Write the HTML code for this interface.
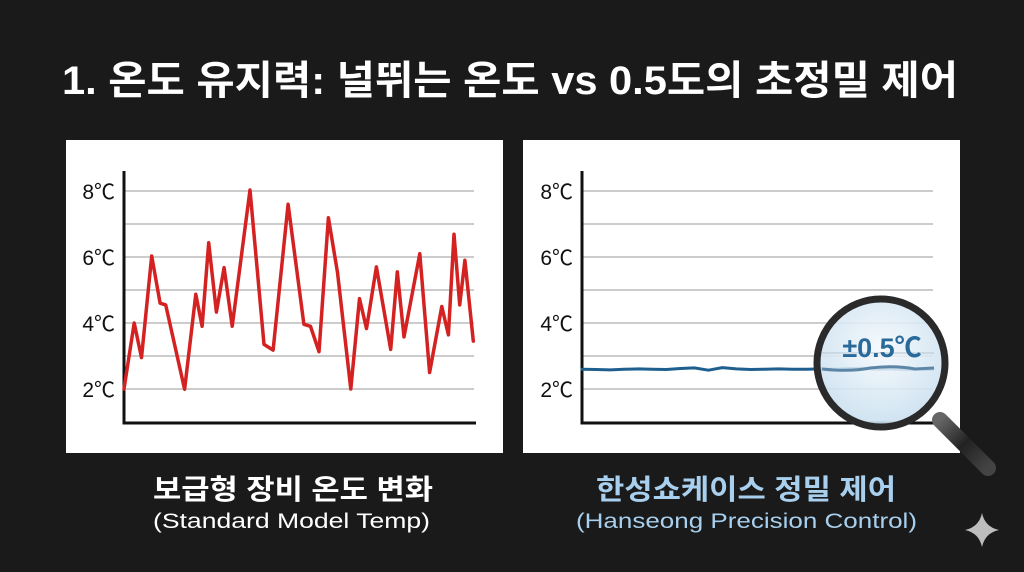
<!DOCTYPE html>
<html><head><meta charset="utf-8"><style>
html,body{margin:0;padding:0;background:#1a1a1a;}
svg{display:block;font-family:"Liberation Sans","Noto Sans CJK KR",sans-serif;}
</style></head><body>
<svg width="1024" height="572" viewBox="0 0 1024 572">
<defs>
<radialGradient id="glass" cx="50%" cy="40%" r="60%">
<stop offset="0" stop-color="#f4f9fd" stop-opacity="0.85"/>
<stop offset="1" stop-color="#c9dfef" stop-opacity="0.9"/>
</radialGradient>
<linearGradient id="handle" x1="0" y1="0" x2="1" y2="1">
<stop offset="0" stop-color="#666"/><stop offset="0.5" stop-color="#222"/><stop offset="1" stop-color="#444"/>
</linearGradient>
</defs>
<rect width="1024" height="572" fill="#1a1a1a"/>
<text x="62" y="94" font-size="40" font-weight="bold" fill="#ffffff" textLength="896" lengthAdjust="spacingAndGlyphs">1. 온도 유지력: 널뛰는 온도 vs 0.5도의 초정밀 제어</text>

<rect x="66" y="140" width="437" height="313" fill="#ffffff"/>
<rect x="523" y="140" width="437" height="313" fill="#ffffff"/>
<g id="left-chart"></g>
<g id="right-chart"></g>

<text x="153" y="499" font-size="28" font-weight="bold" fill="#ffffff" textLength="280" lengthAdjust="spacingAndGlyphs">보급형 장비 온도 변화</text>
<text x="153" y="528" font-size="21" fill="#ffffff" textLength="277" lengthAdjust="spacingAndGlyphs">(Standard Model Temp)</text>
<text x="596" y="499" font-size="28" font-weight="bold" fill="#a8d0ee" textLength="300" lengthAdjust="spacingAndGlyphs">한성쇼케이스 정밀 제어</text>
<text x="576" y="528" font-size="21" fill="#a8d0ee" textLength="341" lengthAdjust="spacingAndGlyphs">(Hanseong Precision Control)</text>

<path d="M982 513 Q985 527 999 530 Q985 533 982 547 Q979 533 965 530 Q979 527 982 513 Z" fill="#bdbdbd"/>
</svg>
<script>
const ticks = [2, 3, 4, 5, 6, 7, 8];
const tickLabels = ["2℃", "", "4℃", "", "6℃", "", "8℃"];
const stdTime = [0, 2.9, 5.0, 7.9, 10.3, 11.9, 17.3, 20.5, 22.3, 24.2, 26.4, 28.6, 30.9, 36.0, 40.0, 42.6, 46.9, 51.4, 53.3, 55.7, 58.4, 61.0, 64.8, 67.3, 69.3, 72.1, 76.2, 78.1, 80.0, 84.5, 87.3, 90.8, 92.7, 94.3, 95.9, 97.4, 99.8];
const stdTemp = [2.0, 4.0, 2.95, 6.03, 4.6, 4.55, 1.99, 4.87, 3.9, 6.43, 4.33, 5.68, 3.9, 8.03, 3.35, 3.18, 7.6, 3.96, 3.9, 3.13, 7.19, 5.53, 2.0, 4.74, 3.83, 5.7, 3.2, 5.55, 3.58, 6.1, 2.5, 4.5, 3.64, 6.69, 4.55, 5.9, 3.45];
const precTime = [0, 4, 8, 12, 16, 20, 24, 28, 32, 36, 40, 44, 48, 52, 56, 60, 64, 68, 72, 76, 80, 84, 88, 92, 96, 100];
const precTemp = [2.6, 2.59, 2.58, 2.6, 2.61, 2.6, 2.59, 2.62, 2.64, 2.57, 2.65, 2.61, 2.59, 2.6, 2.61, 2.6, 2.6, 2.61, 2.6, 2.62, 2.63, 2.6, 2.61, 2.59, 2.6, 2.6];

const NS = "http://www.w3.org/2000/svg";
function mk(tag, attrs, parent) {
  const e = document.createElementNS(NS, tag);
  for (const k in attrs) e.setAttribute(k, attrs[k]);
  parent.appendChild(e);
  return e;
}
function yScale(v) { return 389 - (v - 2) * 33; }

function drawChart(gid, x0, xEnd, times, temps, color, width, lineName) {
  const g = document.getElementById(gid);
  const xScale = t => x0 + t / 100 * (xEnd - x0);
  ticks.forEach((v, i) => {
    const gl = mk("line", {x1: x0, x2: xEnd, y1: yScale(v), y2: yScale(v), stroke: "#9a9a9a", "stroke-width": 1}, g);
    
    
    if (tickLabels[i]) {
      const t = mk("text", {x: x0 - 9, y: yScale(v) + 8, "font-size": 21, fill: "#111", "text-anchor": "end"}, g);
      t.textContent = tickLabels[i];
      
      
    }
  });
  const ax = mk("path", {d: `M${x0} 171 V423 H${xEnd + 2}`, fill: "none", stroke: "#111", "stroke-width": 3}, g);
  
  
  const pts = times.map((t, i) => `${xScale(t).toFixed(1)},${yScale(temps[i]).toFixed(1)}`).join(" ");
  const pl = mk("polyline", {points: pts, fill: "none", stroke: color, "stroke-width": width, "stroke-linejoin": "round", "stroke-linecap": "round"}, g);
  
  
}
drawChart("left-chart", 124, 474, stdTime, stdTemp, "#d42222", 3.5, "standard-temp-line");
drawChart("right-chart", 582, 933, precTime, precTemp, "#1f5f8f", 3, "precision-temp-line");

const svg = document.querySelector("svg");
const mg = mk("g", {}, svg);


const h = mk("line", {x1: 940, y1: 420, x2: 988, y2: 468, stroke: "url(#handle)", "stroke-width": 16, "stroke-linecap": "round"}, mg);


const gl = mk("circle", {cx: 881, cy: 363, r: 64, fill: "url(#glass)", stroke: "#2a2a2a", "stroke-width": 7}, mg);


const gline = mk("line", {x1: 822, x2: 934, y1: 353, y2: 353, stroke: "#b5c4cf", "stroke-width": 1}, mg);


const mw = mk("path", {d: "M822 369 Q850 372 870 368 Q895 365 915 369 L934 368", fill: "none", stroke: "#5d86a6", "stroke-width": 3}, mg);


const lbl = mk("text", {x: 882, y: 357, "font-size": 27, "font-weight": "bold", fill: "#2a6a9a", "text-anchor": "middle"}, mg);
lbl.textContent = "±0.5℃";


</script>
</body></html>
